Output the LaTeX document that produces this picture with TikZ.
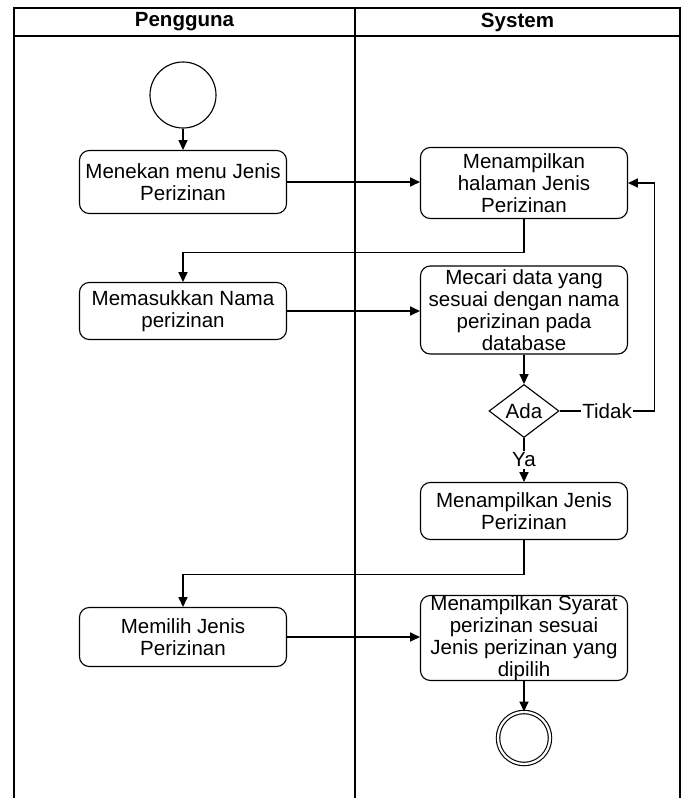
\documentclass[tikz,border=0pt]{standalone}
\usepackage{fontspec}
\setmainfont{Liberation Sans}
\usetikzlibrary{shapes.geometric, arrows.meta, positioning}

\begin{document}
\begin{tikzpicture}[
    x=0.025cm, y=-0.025cm,
    line width=0.8pt,
    every node/.style={font=\fontsize{14.6}{15.6}\selectfont},
    act/.style={rectangle, rounded corners=7pt, draw, minimum width=5.175cm,
        inner sep=2pt, align=center},
    startnode/.style={circle, draw, minimum size=1.65cm, inner sep=0pt},
    endnode/.style={circle, draw, double, double distance=1.6pt, minimum size=1.3cm, inner sep=0pt},
    decision/.style={diamond, draw, aspect=1.3, minimum width=1.75cm, minimum height=1.325cm, inner sep=0pt},
    lbl/.style={fill=white, inner sep=1pt},
    arr/.style={-{Triangle[length=7pt, width=6.5pt]}}
]
\useasboundingbox (0,0) rectangle (682,798);

% Swimlanes
\draw (14,798) -- (14,8) -- (680,8) -- (680,798);
\draw (14,36) -- (680,36);
\draw (355,8) -- (355,798);
\node[font=\fontsize{14.6}{15.6}\selectfont\bfseries] (hpeng) at (184.5,22) {Pengguna};
\node[font=\fontsize{14.6}{15.6}\selectfont\bfseries] (hsys) at (517.5,22) {System};

% Pengguna lane
\node[startnode] (start) at (183,95) {};
\node[act, minimum height=1.575cm] (a1) at (183,182) {Menekan menu Jenis\\Perizinan};
\node[act, minimum height=1.425cm] (a2) at (183,311) {Memasukkan Nama\\perizinan};
\node[act, minimum height=1.475cm] (a3) at (183,637) {Memilih Jenis\\Perizinan};

% System lane
\node[act, minimum height=1.775cm] (s1) at (524,183) {Menampilkan\\halaman Jenis\\Perizinan};
\node[act, minimum height=2.2cm] (s2) at (524,310) {Mecari data yang\\sesuai dengan nama\\perizinan pada\\database};
\node[decision] (ada) at (524,411) {Ada};
\node[act, minimum height=1.425cm] (s3) at (524,511) {Menampilkan Jenis\\Perizinan};
\node[act, minimum height=2.0cm, inner ysep=0pt] (s4) at (524,638) {Menampilkan Syarat\\perizinan sesuai\\Jenis perizinan yang\\dipilih};
\node[endnode] (finish) at (524,738) {};

% Flow
\draw[arr] (start) -- (a1);
\draw[arr] (a1) -- (s1.west |- a1);
\draw[arr] (s1.south) -- ++(0,33) -| (a2.north);
\draw[arr] (a2) -- (s2.west |- a2);
\draw[arr] (s2) -- (ada);
\draw[arr] (ada.east) -- node[lbl] {Tidak} ++(95,0) |- (s1.east);
\draw[arr] (ada.south) -- node[lbl] {Ya} (s3.north);
\draw[arr] (s3.south) -- ++(0,34) -| (a3.north);
\draw[arr] (a3) -- (s4.west |- a3);
\draw[arr] (s4) -- (finish);

\end{tikzpicture}
\end{document}
